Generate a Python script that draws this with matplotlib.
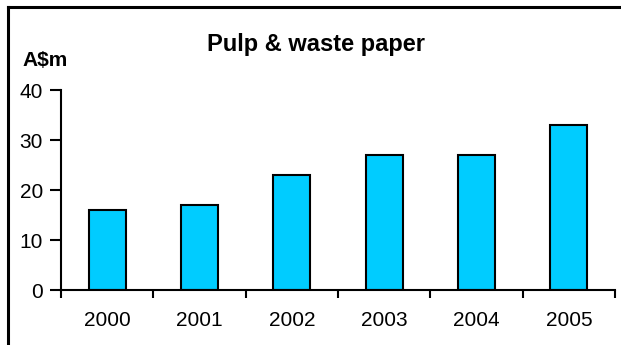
import matplotlib.pyplot as plt
from matplotlib.lines import Line2D

years = ["2000", "2001", "2002", "2003", "2004", "2005"]
values = [16, 17, 23, 27, 27, 33]

plt.rcParams["font.family"] = ["Liberation Sans", "DejaVu Sans"]

fig = plt.figure(figsize=(6.21, 3.45), dpi=100)
ax = fig.add_axes([61 / 621, 55 / 345, 554 / 621, 200 / 345])

x = range(len(years))
ax.bar(x, values, width=0.4, color="#00CCFF", edgecolor="black", linewidth=1.5)

ax.set_xlim(-0.5, len(years) - 0.5)
ax.set_ylim(0, 40)
ax.set_yticks([0, 10, 20, 30, 40])
ax.set_xticks(x)
ax.set_xticklabels(years)
ax.set_xticks([i - 0.5 for i in range(len(years) + 1)], minor=True)

ax.tick_params(axis="x", which="major", length=0, pad=15, labelsize=15)
ax.tick_params(axis="x", which="minor", length=6, width=1.5, direction="out")
ax.tick_params(axis="y", length=8, width=1.5, direction="out", pad=5, labelsize=15)

for s in ["top", "right"]:
    ax.spines[s].set_visible(False)
for s in ["left", "bottom"]:
    ax.spines[s].set_linewidth(1.5)

fig.text(316 / 621, 1 - 44 / 345, "Pulp & waste paper", ha="center", va="center",
         fontsize=17, fontweight="bold")
fig.text(22 / 621, 1 - 60 / 345, "A$m", ha="left", va="center",
         fontsize=15, fontweight="bold")

# outer frame (top and left edges visible)
fig.add_artist(Line2D([7.5 / 621, 7.5 / 621], [0, 1 - 7 / 345], color="black",
                      linewidth=2.2, transform=fig.transFigure))
fig.add_artist(Line2D([7.5 / 621, 1], [1 - 7 / 345, 1 - 7 / 345], color="black",
                      linewidth=2.2, transform=fig.transFigure))

fig.savefig("out.png", dpi=100)
